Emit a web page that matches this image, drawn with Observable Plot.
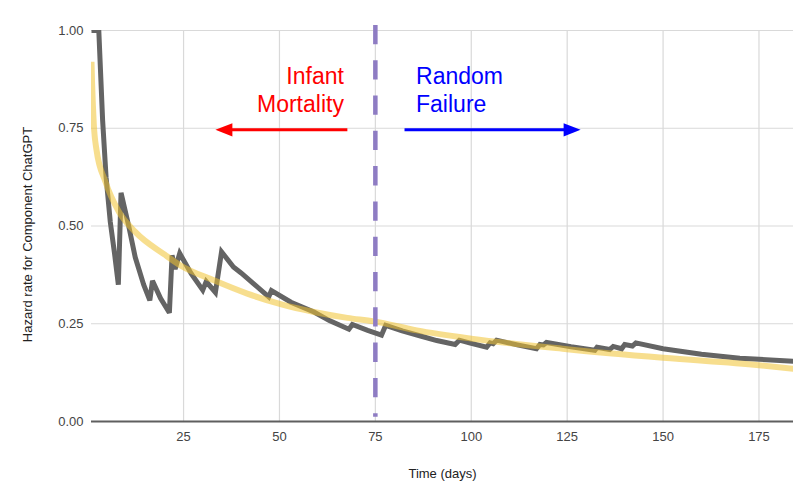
<!DOCTYPE html>
<html>
<head>
<meta charset="utf-8">
<script src="https://cdn.jsdelivr.net/npm/d3@7"></script>
<script src="https://cdn.jsdelivr.net/npm/@observablehq/plot@0.6"></script>
<style>
  html, body { margin: 0; padding: 0; background: #fff; }
</style>
</head>
<body>
<div id="chart"></div>
<script>
// Observed hazard rate (gray line)
const hazardDays = [1, 2.9, 3.9, 4.8, 5.9, 7.0, 8.0, 8.7, 10.7, 12.4, 14.6, 16.2, 16.9, 19.0, 21.3, 22.0, 22.8, 24.0, 27.0, 30.0, 30.9, 33.3, 34.9, 38.0, 40.0, 43.3, 47.2, 47.9, 53.0, 59.0, 63.0, 68.1, 69.0, 73.0, 76.6, 77.7, 82.0, 87.0, 91.0, 95.8, 96.9, 100.0, 104.0, 104.9, 105.7, 106.6, 112.0, 117.0, 117.9, 118.8, 119.6, 126.0, 132.2, 132.8, 136.1, 137.0, 139.2, 140.0, 142.0, 142.9, 150.0, 160.0, 170.0, 184.0];
const hazardRate = [1.0, 1.0, 0.77, 0.625, 0.51, 0.43, 0.35, 0.585, 0.5, 0.42, 0.35, 0.31, 0.36, 0.315, 0.278, 0.425, 0.39, 0.43, 0.378, 0.336, 0.358, 0.33, 0.434, 0.395, 0.38, 0.352, 0.319, 0.335, 0.305, 0.28, 0.258, 0.236, 0.248, 0.233, 0.221, 0.246, 0.232, 0.218, 0.207, 0.197, 0.208, 0.2, 0.19, 0.201, 0.199, 0.208, 0.196, 0.186, 0.197, 0.196, 0.202, 0.191, 0.182, 0.19, 0.184, 0.192, 0.186, 0.197, 0.193, 0.201, 0.186, 0.172, 0.162, 0.154];

// Fitted trend (yellow line)
const trendDays = [1.0, 1.15, 1.6, 2.3, 4.6, 8.1, 12.4, 20.2, 24.2, 32.9, 41.6, 50.3, 59.0, 67.7, 74.6, 85.8, 100, 125, 150, 175, 184];
const trendRate = [0.92, 0.866, 0.76, 0.695, 0.614, 0.537, 0.485, 0.426, 0.399, 0.361, 0.327, 0.3, 0.28, 0.265, 0.256, 0.233, 0.212, 0.185, 0.163, 0.144, 0.135];

const xTicks = [25, 50, 75, 100, 125, 150, 175];
const yTicks = [0, 0.25, 0.5, 0.75, 1];
const phaseBoundary = 75;

const annotationText = ["Infant\nMortality", "Random\nFailure"];
const annotationX = [66.8, 85.6];
const annotationY = [0.792, 0.792];
const arrowFrom = [67.7, 82.6];
const arrowTo = [33.3, 128.5];
const arrowY = [0.746, 0.746];

const xLabel = "Time (days)";
const yLabel = "Hazard rate for Component ChatGPT";

const hazard = hazardDays.map((d, i) => ({day: d, rate: hazardRate[i]}));
const trend = trendDays.map((d, i) => ({day: d, rate: trendRate[i]}));
const notes = annotationText.map((t, i) => ({text: t, x: annotationX[i], y: annotationY[i]}));
const arrows = arrowFrom.map((f, i) => ({x1: f, x2: arrowTo[i], y: arrowY[i]}));

const noteColors = ["#ff0000", "#0000ff"];
const font = "'Liberation Sans', Arial, sans-serif";

// filled arrowhead pointing right, tip at origin
const headSymbol = {
  draw(context) {
    context.moveTo(0, 0);
    context.lineTo(-17, -6.6);
    context.lineTo(-17, 6.6);
    context.closePath();
  }
};

const chart = Plot.plot({
  width: 805,
  height: 492,
  marginLeft: 91,
  marginRight: 12,
  marginTop: 30,
  marginBottom: 71,
  style: {fontFamily: font, fontSize: "13px", color: "#444", background: "#fff"},
  x: {domain: [1, 184]},
  y: {domain: [0, 1]},
  marks: [
    Plot.gridX(xTicks, {stroke: "#d9d9d9", strokeOpacity: 1, strokeWidth: 1.2}),
    Plot.gridY(yTicks.filter(d => d > 0), {stroke: "#d9d9d9", strokeOpacity: 1, strokeWidth: 1.2}),
    Plot.axisX({ticks: xTicks, tickSize: 0, tickPadding: 10.5, label: null, fontSize: 13}),
    Plot.axisY({ticks: yTicks, tickSize: 0, tickPadding: 8, tickFormat: d3.format(".2f"), label: null, fontSize: 13}),
    Plot.ruleY([0], {stroke: "#5f5f5f", strokeWidth: 2}),
    Plot.line(hazard, {x: "day", y: "rate", stroke: "#646464", strokeWidth: 5, strokeLinejoin: "miter", strokeMiterlimit: 3, strokeLinecap: "butt", clip: true}),
    Plot.line(trend, {x: "day", y: "rate", curve: "monotone-x", stroke: "#f1c232", strokeOpacity: 0.55, strokeWidth: 6, strokeLinecap: "butt", clip: true}),
    Plot.ruleX([phaseBoundary], {y1: 1.013, y2: 0.011, stroke: "#8e7cc3", strokeWidth: 4.5, strokeDasharray: "19.3,16"}),
    Plot.arrow(arrows, {x1: "x1", x2: "x2", y1: "y", y2: "y", stroke: (d, i) => noteColors[i], strokeWidth: 3, headLength: 0, insetEnd: 14, strokeLinecap: "butt"}),
    Plot.dot(arrows, {x: "x2", y: "y", symbol: headSymbol, r: 5, fill: (d, i) => noteColors[i], stroke: null, rotate: (d, i) => i === 0 ? 180 : 0}),
    Plot.text(notes.slice(0, 1), {x: "x", y: "y", text: "text", fill: noteColors[0], fontSize: 23, lineHeight: 1.2, lineAnchor: "bottom", textAnchor: "end", fontFamily: font}),
    Plot.text(notes.slice(1, 2), {x: "x", y: "y", text: "text", fill: noteColors[1], fontSize: 23, lineHeight: 1.2, lineAnchor: "bottom", textAnchor: "start", fontFamily: font}),
    Plot.text([xLabel], {frameAnchor: "bottom", dy: 52, textAnchor: "middle", lineAnchor: "middle", fontSize: 13, fill: "#222"}),
    Plot.text([yLabel], {frameAnchor: "left", dx: -64, dy: 8.5, rotate: -90, textAnchor: "middle", lineAnchor: "middle", fontSize: 13, fill: "#222"})
  ]
});

document.getElementById("chart").appendChild(chart);
</script>
</body>
</html>
